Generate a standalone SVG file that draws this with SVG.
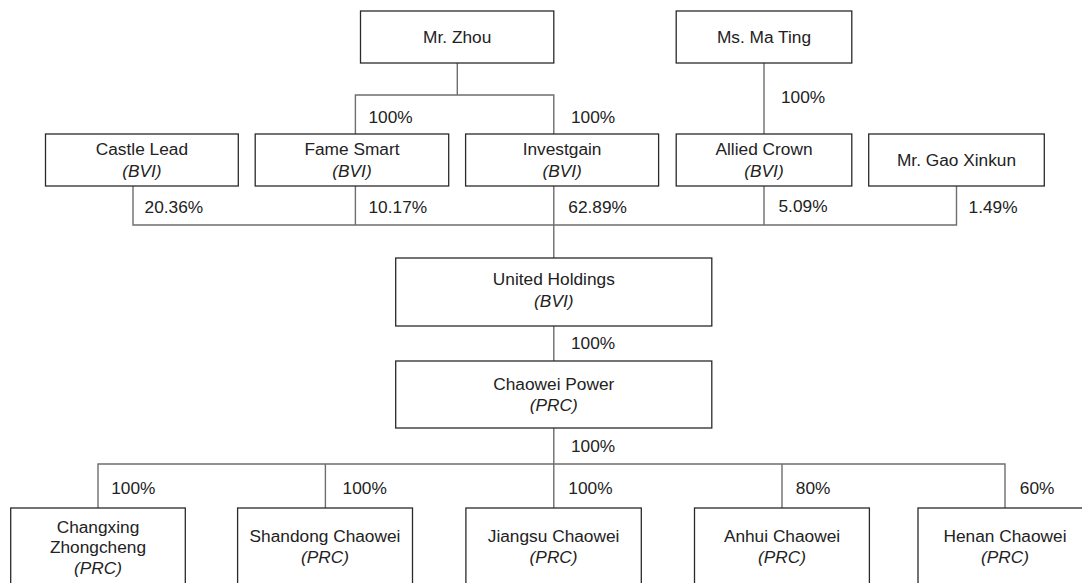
<svg xmlns="http://www.w3.org/2000/svg" width="1082" height="583" viewBox="0 0 1082 583">
<style>
.box{fill:#fff;stroke:#2a2a2a;stroke-width:1.3}
.ln{fill:none;stroke:#6e6e6e;stroke-width:1.4}
text{font-family:"Liberation Sans",Arial,sans-serif;font-size:17.3px;fill:#222}
.c{text-anchor:middle}
.i{font-style:italic}
</style>
<rect width="1082" height="583" fill="#fff"/>
<g id="connectors">
<path class="ln" d="M457.3,63V95M355.4,134V95H553.8V134"/>
<path class="ln" d="M764,63V134"/>
<path class="ln" d="M133,186V225H956.5V186M355.4,186V225M764,186V225M553.8,186V258"/>
<path class="ln" d="M553.8,326V361"/>
<path class="ln" d="M553.8,428V508M98,508V464H1005V508M325.4,464V508M782,464V508"/>
<text x="368.5" y="123">100%</text>
<text x="571" y="123">100%</text>
<text x="781" y="103">100%</text>
<text x="144.6" y="213">20.36%</text>
<text x="368.5" y="213">10.17%</text>
<text x="568.3" y="213">62.89%</text>
<text x="778.5" y="212">5.09%</text>
<text x="968.6" y="213">1.49%</text>
<text x="571" y="349">100%</text>
<text x="571" y="452">100%</text>
<text x="111.2" y="494">100%</text>
<text x="342.6" y="494">100%</text>
<text x="568.3" y="494">100%</text>
<text x="795.8" y="494">80%</text>
<text x="1019.8" y="494">60%</text>
</g>
<g id="zhou"><rect class="box" x="360.5" y="11" width="193.3" height="52"/><text class="c" x="457.2" y="43">Mr. Zhou</text></g>
<g id="mating"><rect class="box" x="676.2" y="11" width="175.6" height="52"/><text class="c" x="764" y="43">Ms. Ma Ting</text></g>
<g id="castle"><rect class="box" x="45.5" y="134" width="192.8" height="52"/><text class="c" x="141.9" y="155">Castle Lead</text><text class="c i" x="141.9" y="177">(BVI)</text></g>
<g id="fame"><rect class="box" x="255.2" y="134" width="193.5" height="52"/><text class="c" x="352" y="155">Fame Smart</text><text class="c i" x="352" y="177">(BVI)</text></g>
<g id="investgain"><rect class="box" x="465.6" y="134" width="193" height="52"/><text class="c" x="562.1" y="155">Investgain</text><text class="c i" x="562.1" y="177">(BVI)</text></g>
<g id="allied"><rect class="box" x="676.2" y="134" width="175.6" height="52"/><text class="c" x="764" y="155">Allied Crown</text><text class="c i" x="764" y="177">(BVI)</text></g>
<g id="gao"><rect class="box" x="868.7" y="134" width="175.6" height="52"/><text class="c" x="956.5" y="166">Mr. Gao Xinkun</text></g>
<g id="united"><rect class="box" x="395.7" y="258" width="316.1" height="68"/><text class="c" x="553.8" y="285">United Holdings</text><text class="c i" x="553.8" y="307">(BVI)</text></g>
<g id="chaowei"><rect class="box" x="395.7" y="361" width="316.1" height="67"/><text class="c" x="553.8" y="390">Chaowei Power</text><text class="c i" x="553.8" y="411">(PRC)</text></g>
<g id="changxing"><rect class="box" x="10.7" y="508" width="174.6" height="100"/><text class="c" x="98" y="533">Changxing</text><text class="c" x="98" y="553">Zhongcheng</text><text class="c i" x="98" y="574">(PRC)</text></g>
<g id="shandong"><rect class="box" x="237.6" y="508" width="174.9" height="100"/><text class="c" x="325" y="542">Shandong Chaowei</text><text class="c i" x="325" y="563">(PRC)</text></g>
<g id="jiangsu"><rect class="box" x="465.9" y="508" width="175.4" height="100"/><text class="c" x="553.6" y="542">Jiangsu Chaowei</text><text class="c i" x="553.6" y="563">(PRC)</text></g>
<g id="anhui"><rect class="box" x="694.5" y="508" width="174.9" height="100"/><text class="c" x="782" y="542">Anhui Chaowei</text><text class="c i" x="782" y="563">(PRC)</text></g>
<g id="henan"><rect class="box" x="918" y="508" width="174" height="100"/><text class="c" x="1005" y="542">Henan Chaowei</text><text class="c i" x="1005" y="563">(PRC)</text></g>
</svg>
